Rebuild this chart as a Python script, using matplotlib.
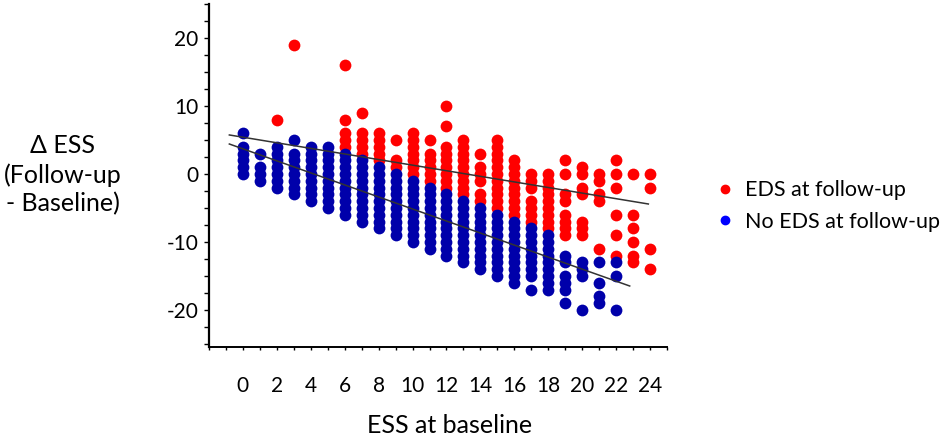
import numpy as np
import matplotlib
matplotlib.use("Agg")
import matplotlib.pyplot as plt
from matplotlib.lines import Line2D
from matplotlib.ticker import MultipleLocator

plt.rcParams['font.family'] = ['Lato', 'DejaVu Sans']
plt.rcParams['axes.unicode_minus'] = False

# ESS at baseline (one column per score)
baseline = list(range(25))

# change in ESS for subjects with EDS at follow-up, per baseline score
eds_delta = [
    [], [], [8], [19], [], [],
    [16, 8, 6, 5, 4],
    [9, 6, 5, 4, 3],
    [6, 5, 4, 3, 2],
    [5, 2, 1],
    [6, 5, 4, 3, 2, 1, 0],
    [5, 3, 2, 1, 0, -1],
    [10, 7, 4, 3, 2, 1, 0, -1, -2],
    [5, 4, 3, 2, 1, 0, -1, -2, -3],
    [3, 1, 0, -1, -3, -4],
    [5, 4, 3, 2, 1, 0, -1, -2, -3, -4, -5],
    [2, 1, 0, -1, -2, -3, -4, -5, -6],
    [0, -1, -2, -4, -5, -6, -7],
    [0, -1, -2, -3, -4, -5, -6, -7, -8],
    [2, 0, -3, -4, -6, -7, -8, -9],
    [1, 0, -2, -3, -7, -8, -9],
    [0, -1, -3, -4, -11],
    [2, 0, -2, -6, -9, -12],
    [0, -6, -8, -10, -12, -13],
    [0, -2, -11, -14],
]

# change in ESS for subjects without EDS at follow-up
no_eds_delta = [
    [6, 4, 3, 2, 1, 0],
    [3, 1, 0, -1],
    [4, 3, 2, 1, 0, -1, -2],
    [5, 3, 2, 1, 0, -1, -2, -3],
    [4, 3, 2, 1, 0, -1, -2, -3, -4],
    [4, 3, 2, 1, 0, -1, -2, -3, -4, -5],
    [3, 2, 1, 0, -1, -2, -3, -4, -5, -6],
    [2, 1, 0, -1, -2, -3, -4, -5, -6, -7],
    [1, 0, -1, -2, -3, -4, -5, -6, -7, -8],
    [0, -1, -2, -3, -4, -5, -6, -7, -8, -9],
    [-1, -2, -3, -4, -5, -6, -7, -8, -9, -10],
    [-2, -3, -4, -5, -6, -7, -8, -9, -10, -11],
    [-3, -4, -5, -6, -7, -8, -9, -10, -11, -12],
    [-4, -5, -6, -7, -8, -9, -10, -11, -12, -13],
    [-5, -6, -7, -8, -9, -10, -11, -12, -13, -14],
    [-6, -7, -8, -9, -10, -11, -12, -13, -14, -15],
    [-7, -8, -9, -10, -11, -12, -13, -14, -15, -16],
    [-8, -9, -10, -11, -12, -13, -14, -15, -17],
    [-9, -10, -11, -12, -13, -14, -15, -16, -17],
    [-12, -13, -15, -16, -17, -19],
    [-13, -14, -15, -20],
    [-13, -16, -18, -19],
    [-13, -15, -20],
    [],
    [],
]

# fitted lines (end points)
eds_fit_x = [-0.8, 23.9]
eds_fit_y = [5.74, -4.41]
no_eds_fit_x = [-0.8, 22.8]
no_eds_fit_y = [4.41, -16.47]

red = '#ff0000'
blue = '#0000aa'


def flatten(groups):
    xs, ys = [], []
    for b, vals in zip(baseline, groups):
        xs += [b] * len(vals)
        ys += vals
    return np.array(xs), np.array(ys)


fig = plt.figure(figsize=(9.45, 4.38), dpi=100)
ax = fig.add_axes([209 / 945, 1 - 347.4 / 438, 458 / 945, 343.4 / 438])

ex, ey = flatten(eds_delta)
nx, ny = flatten(no_eds_delta)
ax.scatter(ex, ey, s=72, color=red, linewidths=0, zorder=2)
ax.scatter(nx, ny, s=72, color=blue, linewidths=0, zorder=3)
ax.plot(eds_fit_x, eds_fit_y, color='#333333', lw=1.1, zorder=4)
ax.plot(no_eds_fit_x, no_eds_fit_y, color='#333333', lw=1.1, zorder=4)

ax.set_xlim(-2, 25)
ax.set_ylim(-25.5, 25)
ax.set_xticks(range(0, 25, 2))
ax.xaxis.set_minor_locator(MultipleLocator(1))
ax.set_yticks([-20, -10, 0, 10, 20])
ax.yaxis.set_minor_locator(MultipleLocator(2.5))

for s in ['top', 'right']:
    ax.spines[s].set_visible(False)
ax.spines['left'].set_linewidth(1.6)
ax.spines['bottom'].set_linewidth(1.4)

ax.tick_params(axis='x', which='both', length=2.5, width=1, direction='out')
ax.tick_params(axis='x', which='major', pad=18, labelsize=15)
ax.tick_params(axis='y', which='both', length=3.5, width=1, direction='out')
ax.tick_params(axis='y', which='major', pad=4, labelsize=15)

fig.text(450 / 945, 1 - 433 / 438, 'ESS at baseline', ha='center', va='baseline', fontsize=18)
fig.text(63 / 945, 1 - 175 / 438, 'Δ ESS\n(Follow-up\n- Baseline)', ha='center', va='center',
         multialignment='center', fontsize=18, linespacing=1.3)

handles = [Line2D([], [], ls='none', marker='o', ms=6, color=red),
           Line2D([], [], ls='none', marker='o', ms=6, color='#0000ff')]
fig.legend(handles, ['EDS at follow-up', 'No EDS at follow-up'], loc='center left',
           bbox_to_anchor=(719 / 945, 1 - 206 / 438), frameon=False, fontsize=15.5,
           handlelength=0.6, handletextpad=0.6, labelspacing=0.55, borderpad=0, borderaxespad=0)

fig.savefig('out.png', dpi=100)
